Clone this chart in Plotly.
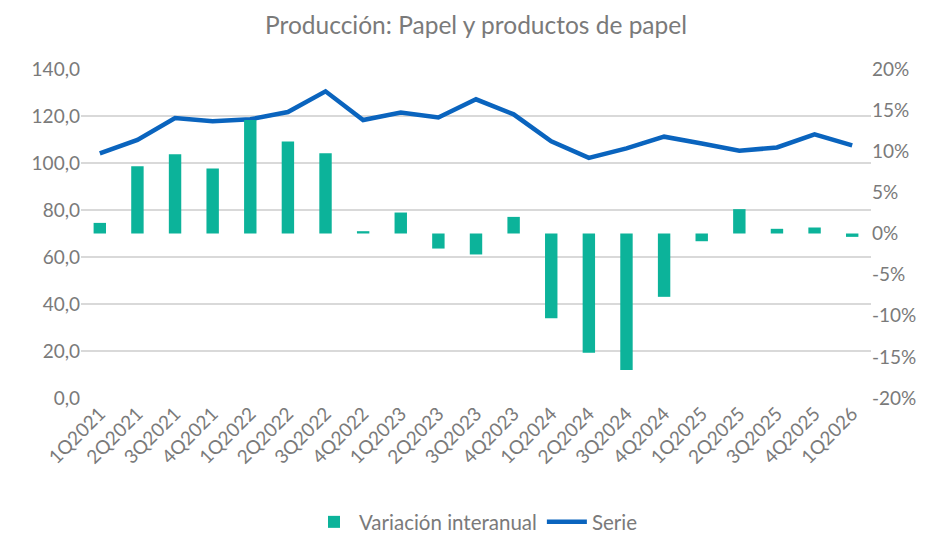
import plotly.graph_objects as go

categories = ["1Q2021", "2Q2021", "3Q2021", "4Q2021", "1Q2022", "2Q2022", "3Q2022",
              "4Q2022", "1Q2023", "2Q2023", "3Q2023", "4Q2023", "1Q2024", "2Q2024",
              "3Q2024", "4Q2024", "1Q2025", "2Q2025", "3Q2025", "4Q2025", "1Q2026"]

serie = [104.1, 109.8, 119.1, 117.8, 118.6, 121.7, 130.5,
         118.3, 121.5, 119.4, 127.1, 120.7, 109.2, 102.2,
         106.2, 111.2, 108.3, 105.2, 106.6, 112.2, 107.5]

variacion = [0.0129, 0.0819, 0.0965, 0.0790, 0.1380, 0.1120, 0.0977,
             0.0028, 0.0255, -0.0183, -0.0255, 0.0202, -0.1030, -0.1450,
             -0.1660, -0.0770, -0.0094, 0.0296, 0.0057, 0.0073, -0.0041]

left_ticks = [0, 20, 40, 60, 80, 100, 120, 140]
right_ticks = [-0.20, -0.15, -0.10, -0.05, 0.0, 0.05, 0.10, 0.15, 0.20]
right_labels = [f"{round(v * 100)}%" for v in right_ticks]

TEAL = "#0CB39A"
BLUE = "#0A64BE"
GREY = "#7A7A7A"
FONT = "Lato"

fig = go.Figure()
fig.add_trace(go.Bar(
    x=categories, y=variacion, name="Variación interanual",
    marker=dict(color=TEAL, line=dict(width=0)),
    width=0.33, yaxis="y2",
))
fig.add_trace(go.Scatter(
    x=categories, y=serie, name="Serie", mode="lines",
    line=dict(color=BLUE, width=4.5), yaxis="y",
))

# the page body adds an 8px margin, so the figure is sized 8px smaller
fig.update_layout(
    width=925, height=531,
    paper_bgcolor="white", plot_bgcolor="white",
    separators=",.",
    font=dict(family=FONT, color=GREY, size=19),
    margin=dict(l=73, r=62, t=61, b=141, autoexpand=False),
    title=dict(text="Producción: Papel y productos de papel",
               x=0.5, xref="paper", xanchor="center",
               y=0.967, yref="container", yanchor="middle",
               font=dict(family=FONT, size=24.5, color=GREY)),
    xaxis=dict(type="category", tickangle=-45, showgrid=False, showline=False,
               ticks="", automargin=False, tickfont=dict(size=19, color=GREY)),
    yaxis=dict(range=[0, 140], tickvals=left_ticks, tickformat=".1f",
               showgrid=True, gridcolor="#D9D9D9", gridwidth=1.5,
               zeroline=False, showline=False, ticks="", automargin=False,
               tickfont=dict(size=19, color=GREY)),
    yaxis2=dict(range=[-0.20, 0.20], tickvals=right_ticks, ticktext=right_labels,
                overlaying="y", side="right", showgrid=False, zeroline=False,
                showline=False, ticks="", automargin=False,
                tickfont=dict(size=19, color=GREY)),
    legend=dict(orientation="h", x=0.5, xanchor="center", y=-0.377,
                yanchor="middle", font=dict(size=20.5, color=GREY),
                itemwidth=40, traceorder="normal"),
    showlegend=True,
)

fig.write_html("out.html")
